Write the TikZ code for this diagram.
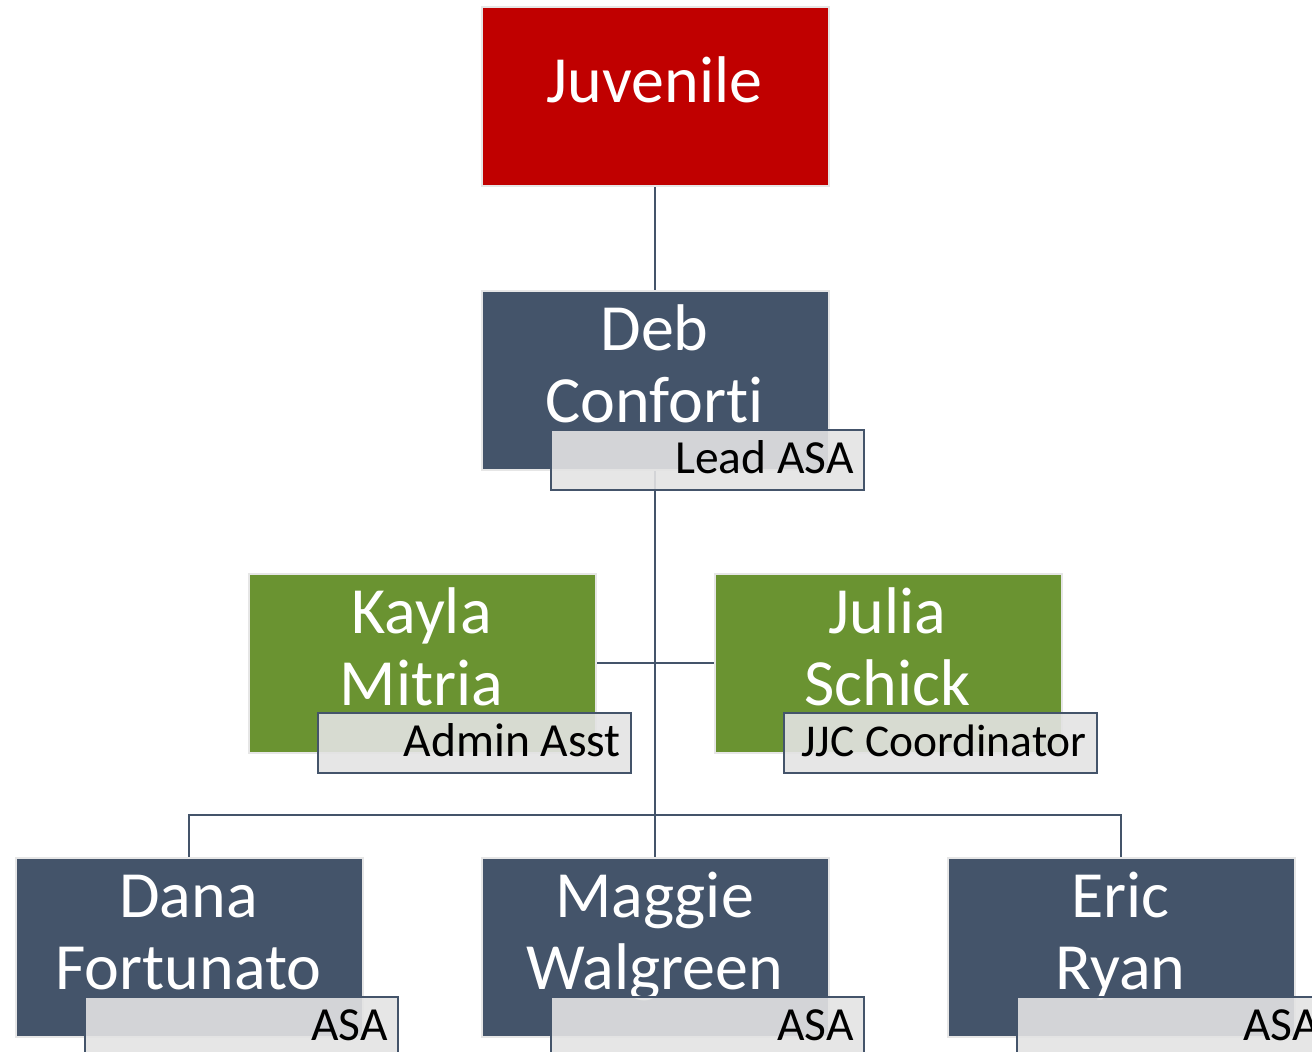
\documentclass[tikz,border=0pt]{standalone}
\usepackage{fontspec}
\setmainfont{Carlito}[Ligatures=NoCommon]
\definecolor{slate}{HTML}{44546A}
\definecolor{juvred}{HTML}{C00000}
\definecolor{leaf}{HTML}{6A9331}
\definecolor{rim}{HTML}{E6E6E6}
\definecolor{tag}{HTML}{E3E3E3}
\tikzset{
  x=1pt, y=-1pt,
  unitbox/.style={draw=rim, line width=2pt, minimum width=347pt, minimum height=179pt,
    inner sep=0pt, anchor=north west},
  tagbox/.style={draw=slate, line width=2pt, fill=tag, fill opacity=0.9,
    minimum width=313pt, minimum height=60pt, inner sep=0pt, anchor=north west},
  nametext/.style={text=white, anchor=base, inner sep=0pt,
    font=\fontsize{66}{72}\selectfont},
  tagtext/.style={text=black, anchor=base east, inner sep=0pt,
    font=\fontsize{47.5}{52}\selectfont},
  link/.style={draw=slate, line width=2pt},
}
% \orgunit[title size]{name}{x}{y}{fill}{line 1}{line 2}{title}
\newcommand\orgunit[8][47.5]{%
  \node[unitbox, fill=#5] (#2) at (#3,#4) {};
  \node[nametext] (#2-a) at ([shift={(173.5,60)}]#2.north west) {#6};
  \node[nametext] (#2-b) at ([shift={(173.5,132)}]#2.north west) {#7};
  \node[tagbox] (#2-tag) at ([shift={(69,139)}]#2.north west) {};
  \node[tagtext, font=\fontsize{#1}{52}\selectfont] (#2-title)
    at ([shift={(-11,44)}]#2-tag.north east) {#8};
}
\begin{document}
\begin{tikzpicture}
\useasboundingbox (0,0) rectangle (1312,1052);
\clip (0,0) rectangle (1312,1052);

% top-left corners of the boxes
\coordinate (p-juv) at (481,6);
\coordinate (p-deb) at (481,290);
\coordinate (p-kayla) at (248,573);
\coordinate (p-julia) at (714,573);
\coordinate (p-dana) at (15,857);
\coordinate (p-maggie) at (481,857);
\coordinate (p-eric) at (947,857);

% invisible placeholders to route the connectors before the boxes are painted
\begin{scope}[every node/.style={minimum width=347pt, minimum height=179pt, inner sep=0pt, anchor=north west}]
  \node (juv) at (p-juv) {};
  \node (deb) at (p-deb) {};
  \node (kayla) at (p-kayla) {};
  \node (julia) at (p-julia) {};
  \node (dana) at (p-dana) {};
  \node (maggie) at (p-maggie) {};
  \node (eric) at (p-eric) {};
\end{scope}

% connectors
\draw[link] (juv.south) -- (deb.north);
\draw[link] (deb.south) -- (maggie.north);
\draw[link] (kayla.east) -- (julia.west);
\coordinate (bus) at ([yshift=42pt]dana.north);
\draw[link] (dana.north) -- (bus) -| (eric.north);

% boxes
\node[unitbox, fill=juvred] (juvbox) at (p-juv) {};
\node[nametext] (juv-a) at ([shift={(173.5,96)}]juvbox.north west) {Juvenile};

\orgunit{debbox}{481}{290}{slate}{Deb}{Conforti}{Lead ASA}
\orgunit{kaylabox}{248}{573}{leaf}{Kayla}{Mitria}{Admin Asst}
\orgunit[45.5]{juliabox}{714}{573}{leaf}{Julia}{Schick}{JJC Coordinator}
\orgunit{danabox}{15}{857}{slate}{Dana}{Fortunato}{ASA}
\orgunit{maggiebox}{481}{857}{slate}{Maggie}{Walgreen}{ASA}
\orgunit{ericbox}{947}{857}{slate}{Eric}{Ryan}{ASA}
\end{tikzpicture}
\end{document}
